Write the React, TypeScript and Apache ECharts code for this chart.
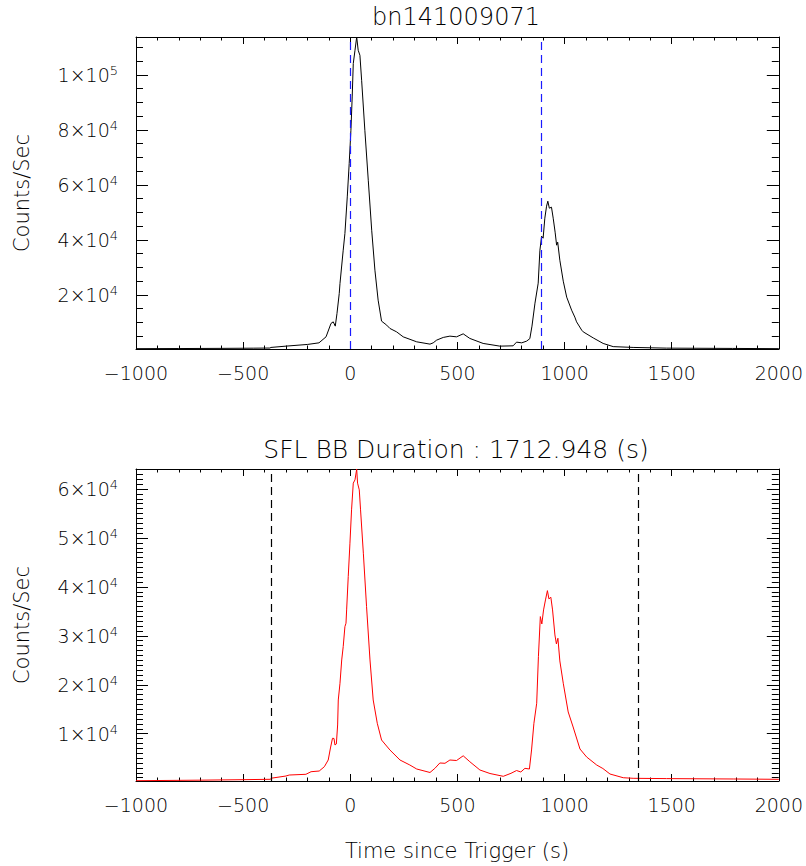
import React, { useEffect, useRef } from 'react';
import * as echarts from 'echarts';

const FONT = 'DejaVu Sans';
const WEIGHT = 200;
const TXT = '#000';

const topTitle = 'bn141009071';
const bottomTitle = 'SFL BB Duration : 1712.948 (s)';
const xName = 'Time since Trigger (s)';
const yName = 'Counts/Sec';

const xTicks = [-1000, -500, 0, 500, 1000, 1500, 2000];
const topYTicks = [20000, 40000, 60000, 80000, 100000];
const bottomYTicks = [10000, 20000, 30000, 40000, 50000, 60000];

const topTime = [-1000, -800, -600, -450, -375, -370, -300, -199, -146, -113, -90, -79.5, -70, -62, -51.5, -48, -33, -25, -14, -5, 3, 9, 14, 22, 30, 37, 45, 53, 68, 84, 100, 115, 130, 146, 170, 185, 216, 247, 310, 372, 387, 403, 434, 465, 496, 527, 558, 620, 698, 760, 776, 800, 823, 838, 848, 862, 877, 885, 893, 900, 908, 916, 922, 929, 939, 947, 956, 963, 968, 978, 994, 1010, 1033, 1048, 1056, 1080, 1087, 1134, 1180, 1227, 1320, 1476, 1785, 2000];
const topCounts = [420, 470, 530, 600, 650, 870, 1345, 1960, 2545, 4730, 9600, 10180, 8620, 13240, 20500, 24140, 36250, 42320, 55630, 67770, 79880, 91990, 104130, 108970, 113800, 108970, 107150, 98060, 79880, 61700, 43520, 28980, 18070, 10440, 8980, 7780, 6545, 4727, 2910, 2070, 2545, 3527, 4509, 4980, 4727, 5818, 4145, 2327, 1345, 1454, 2800, 2545, 3163, 4072, 8617, 16980, 24250, 36250, 41340, 40610, 47890, 52250, 54070, 51520, 51890, 47890, 42800, 38070, 39160, 32600, 24980, 19160, 14430, 11890, 10180, 7160, 6545, 4330, 2327, 1163, 873, 618, 509, 420];

const bottomTime = [-1000, -700, -500, -372, -369, -300, -285, -207, -183, -145, -121, -103, -92.5, -83, -76, -71.5, -65, -59, -56, -48, -40, -33, -25, -20, -17, -9.5, -1.5, 6, 14, 22, 30, 34, 42, 48, 61, 76, 92, 107, 126, 146, 185, 232, 278, 310, 372, 395, 418, 442, 465, 496, 527, 558, 605, 652, 714, 750, 776, 796, 815, 836, 846, 857, 870, 878, 887, 894, 902, 911, 920, 927, 936, 944, 955, 962, 969, 978, 994, 1017, 1040, 1072, 1103, 1150, 1179, 1212, 1274, 1320, 1476, 1787, 2000];
const bottomCounts = [390, 500, 600, 680, 900, 1350, 1550, 1700, 2230, 2370, 3250, 4620, 7080, 9060, 9020, 7690, 7890, 11780, 16890, 20310, 25070, 27790, 31880, 32580, 35300, 42110, 48940, 55750, 61210, 61890, 64100, 61210, 59840, 55750, 46890, 35970, 25070, 16890, 12130, 8710, 6670, 4620, 3600, 2780, 2070, 2920, 4010, 3950, 4620, 4520, 5480, 4270, 2580, 1860, 1290, 1900, 2470, 2170, 2920, 2780, 6670, 12130, 16220, 25750, 33930, 32430, 35300, 37340, 39240, 37550, 37890, 35300, 30180, 28340, 29510, 24870, 20310, 14440, 11370, 6870, 5240, 3600, 2880, 1760, 1000, 880, 820, 740, 675];

const topMarks = [1.6, 891];
const bottomMarks = [-369.5, 1343.4];

const topRange = [300, 113800];
const bottomRange = [330, 64100];
const topMinorStep = 5000;
const bottomMinorStep = 1000;

function minorValues(step: number, max: number) {
  const out: number[] = [];
  for (let v = step; v < max; v += step) out.push(v);
  return out;
}

function zip(a: number[], b: number[]) {
  return a.map((t, i) => [t, b[i]]);
}

const lineStyle = { color: '#000', width: 1 };

function xAxis(gridIndex: number, position: string, showLabel: boolean) {
  return {
    type: 'value',
    gridIndex,
    position,
    min: xTicks[0],
    max: xTicks[xTicks.length - 1],
    interval: 500,
    axisLine: { show: true, onZero: false, lineStyle },
    axisTick: { show: true, inside: true, length: 7, lineStyle },
    minorTick: { show: true, splitNumber: 5, length: 3.5, lineStyle },
    splitLine: { show: false },
    minorSplitLine: { show: false },
    axisLabel: {
      show: showLabel,
      margin: 14,
      fontFamily: FONT,
      fontWeight: WEIGHT,
      fontSize: 19,
      color: TXT,
      showMinLabel: true,
      showMaxLabel: true,
      formatter: (v: number) => (v < 0 ? '\u2212' + Math.abs(v) : String(v)),
    },
  };
}

function yAxis(gridIndex: number, position: string, range: number[], values: number[], length: number, showLabel: boolean, showLine: boolean) {
  return {
    type: 'value',
    gridIndex,
    position,
    min: range[0],
    max: range[1],
    axisLine: { show: showLine, onZero: false, lineStyle },
    axisTick: { show: true, inside: true, length, customValues: values, lineStyle },
    splitLine: { show: false },
    axisLabel: {
      show: showLabel,
      customValues: values,
      margin: 18,
      formatter: (v: number) => {
        const e = Math.floor(Math.log10(v) + 1e-9);
        const m = Math.round(v / Math.pow(10, e));
        return `{a|${m}\u00d710}{b|${e}}`;
      },
      rich: {
        a: { fontFamily: FONT, fontWeight: WEIGHT, fontSize: 19, color: TXT, lineHeight: 22 },
        b: { fontFamily: FONT, fontWeight: WEIGHT, fontSize: 13, color: TXT, lineHeight: 13, verticalAlign: 'top' },
      },
    },
  };
}

function textEl(text: string, x: number, y: number, size: number, rotation = 0) {
  return {
    type: 'text',
    x,
    y,
    rotation,
    style: { text, fontFamily: FONT, fontWeight: WEIGHT, fontSize: size, fill: TXT, align: 'center', verticalAlign: 'middle' },
  };
}

export default function App() {
  const ref = useRef<HTMLDivElement>(null);
  useEffect(() => {
    const chart = echarts.init(ref.current!, null, { renderer: 'svg' });
    const option = {
      animation: false,
      backgroundColor: '#fff',
      grid: [
        { left: 136, top: 37, width: 643, height: 312 },
        { left: 136, top: 469, width: 643, height: 312 },
      ],
      xAxis: [xAxis(0, 'bottom', true), xAxis(0, 'top', false), xAxis(1, 'bottom', true), xAxis(1, 'top', false)],
      yAxis: [
        yAxis(0, 'left', topRange, topYTicks, 12, true, true),
        yAxis(0, 'left', topRange, minorValues(topMinorStep, topRange[1]), 7, false, false),
        yAxis(0, 'right', topRange, topYTicks, 12, false, true),
        yAxis(0, 'right', topRange, minorValues(topMinorStep, topRange[1]), 7, false, false),
        yAxis(1, 'left', bottomRange, bottomYTicks, 12, true, true),
        yAxis(1, 'left', bottomRange, minorValues(bottomMinorStep, bottomRange[1]), 7, false, false),
        yAxis(1, 'right', bottomRange, bottomYTicks, 12, false, true),
        yAxis(1, 'right', bottomRange, minorValues(bottomMinorStep, bottomRange[1]), 7, false, false),
      ],
      series: [
        {
          type: 'line',
          xAxisIndex: 0,
          yAxisIndex: 0,
          data: zip(topTime, topCounts),
          showSymbol: false,
          lineStyle: { color: '#000', width: 1 },
          markLine: {
            silent: true,
            symbol: ['none', 'none'],
            label: { show: false },
            lineStyle: { color: '#1a1aff', width: 1.2, type: [8, 5] },
            data: topMarks.map((x) => ({ xAxis: x })),
          },
        },
        {
          type: 'line',
          xAxisIndex: 2,
          yAxisIndex: 4,
          data: zip(bottomTime, bottomCounts),
          showSymbol: false,
          lineStyle: { color: '#ff0000', width: 1 },
          markLine: {
            silent: true,
            symbol: ['none', 'none'],
            label: { show: false },
            lineStyle: { color: '#000', width: 1.2, type: [8, 5] },
            data: bottomMarks.map((x) => ({ xAxis: x })),
          },
        },
      ],
      graphic: [
        textEl(topTitle, 456, 17, 24),
        textEl(bottomTitle, 456, 449, 25),
        textEl(xName, 457, 851, 21),
        textEl(yName, 22, 193, 21, Math.PI / 2),
        textEl(yName, 22, 625, 21, Math.PI / 2),
      ],
    };
    chart.setOption(option as any);
    return () => chart.dispose();
  }, []);
  return <div ref={ref} style={{ position: 'absolute', left: 0, top: 0, width: 806, height: 866 }} />;
}
